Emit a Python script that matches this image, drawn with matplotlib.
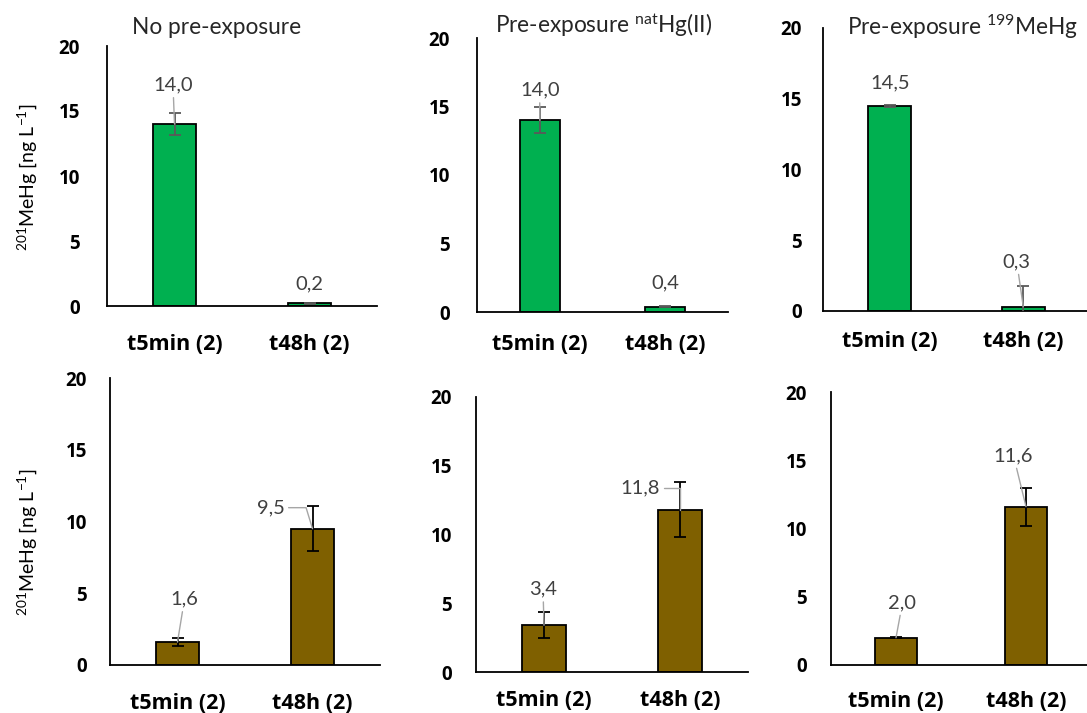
import numpy as np
import matplotlib
matplotlib.use("Agg")
import matplotlib.pyplot as plt

plt.rcParams['font.family'] = ['Lato', 'DejaVu Sans']
plt.rcParams['mathtext.fontset'] = 'custom'
plt.rcParams['mathtext.rm'] = 'Lato'
plt.rcParams['mathtext.it'] = 'Lato:italic'
plt.rcParams['mathtext.bf'] = 'Lato:bold'

# -----------------------------
# Data
# -----------------------------
categories = ["t5min (2)", "t48h (2)"]
titles = ["No pre-exposure", r"Pre-exposure $^{\mathrm{nat}}$Hg(II)", r"Pre-exposure $^{\mathrm{199}}$MeHg"]

top_values = [[14.0, 0.2], [14.0, 0.4], [14.5, 0.3]]
top_errors = [[0.85, 0.05], [0.95, 0.05], [0.05, 1.45]]

bottom_values = [[1.6, 9.5], [3.4, 11.8], [2.0, 11.6]]
bottom_errors = [[0.25, 1.55], [0.95, 2.0], [0.05, 1.4]]

yticks = [0, 5, 10, 15, 20]

# -----------------------------
# Layout (pixels: x_left, x_right, y_top(20), y_bottom(0))
# -----------------------------
W, H = 1087, 713
panel_px = [
    (107, 377, 46, 306), (477, 728, 38, 312), (823, 1090, 28, 311),
    (110, 380, 378, 665), (476, 748, 397, 672), (831, 1091, 392, 665),
]
xpad_px = [31, 25, 23, 31, 21, 29]
ypad_px = [27, 27, 21, 23, 24, 24]
# label offsets (px) relative to bar top, leader line, connection style
label_off = [
    [(-1.5, 39, True, None), (0, 20, False, None)],
    [(0, 30, True, None), (0, 23.5, False, None)],
    [(0, 23, False, None), (-6.5, 45, True, None)],
    [(7, 43, True, None), (-42, 21, True, "angle,angleA=0,angleB=107,rad=0")],
    [(-1, 36, True, None), (-40, 22, True, "angle,angleA=0,angleB=90,rad=0")],
    [(6.5, 35, True, None), (-12.5, 51, True, None)],
]
title_px = [(217, 27), (604, 25), (963, 27)]

green = "#00B050"
brown = "#7F6000"

fig = plt.figure(figsize=(W / 100, H / 100), dpi=100)

all_values = top_values + bottom_values
all_errors = top_errors + bottom_errors

for i, (x0, x1, yt, yb) in enumerate(panel_px):
    ax = fig.add_axes([x0 / W, 1 - yb / H, (x1 - x0) / W, (yb - yt) / H])
    vals = all_values[i]
    errs = all_errors[i]
    row_top = i < 3
    color = green if row_top else brown
    ecolor = "#595959" if row_top else "black"
    xpos = np.arange(len(categories))
    ax.bar(xpos, vals, width=0.32, color=color, edgecolor="black", linewidth=1.3, zorder=2)
    ax.errorbar(xpos, vals, yerr=errs, fmt="none", ecolor=ecolor, elinewidth=1.3,
                capsize=4.5, capthick=1.3, zorder=3)
    for j, v in enumerate(vals):
        dx, dy, leader, conn = label_off[i][j]
        arrow = None
        if leader:
            arrow = dict(arrowstyle="-", color="#A6A6A6", lw=1.0, shrinkA=1, shrinkB=0)
            if conn:
                arrow["connectionstyle"] = conn
        ax.annotate(f"{v:.1f}".replace(".", ","), xy=(xpos[j], v),
                    xytext=(dx * 0.72, dy * 0.72), textcoords="offset points",
                    ha="center", va="center", fontsize=14.5, color="#404040",
                    arrowprops=arrow, zorder=4, annotation_clip=False)
    ax.set_xlim(-0.5, 1.5)
    ax.set_ylim(0, 20)
    ax.set_yticks(yticks)
    ax.set_xticks(xpos)
    ax.set_xticklabels(categories)
    for lab in ax.get_yticklabels():
        lab.set_family(["Open Sans", "DejaVu Sans"])
        lab.set_fontweight("bold")
        lab.set_fontsize(13.5)
    for lab in ax.get_xticklabels():
        lab.set_family(["Open Sans", "DejaVu Sans"])
        lab.set_fontweight("bold")
        lab.set_fontsize(15.5)
    ax.tick_params(axis="y", length=0, pad=ypad_px[i] * 0.72)
    ax.tick_params(axis="x", length=0, pad=xpad_px[i] * 0.72 - 2)
    for s in ["top", "right"]:
        ax.spines[s].set_visible(False)
    for s in ["left", "bottom"]:
        ax.spines[s].set_linewidth(1.3)
        ax.spines[s].set_color("black")
    ax.patch.set_alpha(0)
    ax.spines["bottom"].set_clip_on(False)

for k, (tx, ty) in enumerate(title_px):
    fig.text(tx / W, 1 - ty / H, titles[k], ha="center", va="center", fontsize=16.3, color="#262626")

ylab = r"$^{\mathrm{201}}$MeHg [ng L$^{\mathrm{-1}}$]"
fig.text(27 / W, 1 - 177 / H, ylab, rotation=90, ha="center", va="center", fontsize=14, color="black")
fig.text(27 / W, 1 - 542 / H, ylab, rotation=90, ha="center", va="center", fontsize=14, color="black")

fig.savefig("out.png", dpi=100)
